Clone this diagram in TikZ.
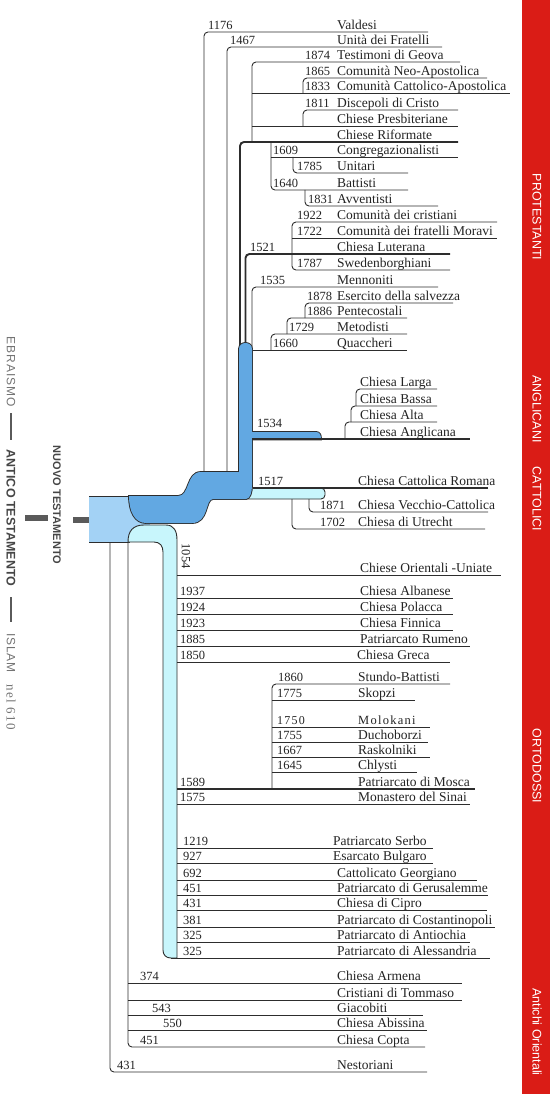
\documentclass[tikz,border=0pt]{standalone}
\usepackage{fontspec}
\setmainfont{Liberation Serif}
\setsansfont{Liberation Sans}
\newfontfamily\spacedserif[LetterSpace=10]{Liberation Serif}
\newfontfamily\spacedsans[LetterSpace=8]{Liberation Sans}
\usepackage{tikz}
\tikzset{
  ln/.style     ={draw=lncol, line width=0.9pt},
  thk/.style    ={ln/.append style={line width=1.9pt}},
  outl/.style   ={draw=lncol, line width=1.8pt},
  dt/.style     ={anchor=base west, inner sep=0pt, yshift=2.5pt, text=txtcol,
                  font=\fontsize{12.5}{13}\selectfont},
  lb/.style     ={anchor=base west, inner sep=0pt, yshift=2.5pt, text=txtcol,
                  font=\fontsize{13.5}{14}\selectfont},
  sidetxt/.style={rotate=-90, text=white, inner sep=0pt,
                  font=\sffamily\fontsize{12.5}{13}\selectfont},
  lefttxt/.style={rotate=-90, text=sidegray, inner sep=0pt,
                  font=\spacedsans\fontsize{12}{12}\selectfont},
  boldtxt/.style={rotate=-90, text=darkgray1, inner sep=0pt,
                  font=\sffamily\bfseries\fontsize{12.5}{13}\selectfont},
  sep/.style    ={draw=bargray, line width=2pt},
  gbar/.style   ={draw=bargray, line width=5.5pt},
}
\definecolor{lncol}   {RGB}{45,45,45}
\definecolor{txtcol}  {RGB}{35,35,35}
\definecolor{blueS}   {RGB}{98,168,226}
\definecolor{boxblue} {RGB}{163,210,245}
\definecolor{cyanO}   {RGB}{200,246,252}
\definecolor{redbar}  {RGB}{218,28,22}
\definecolor{sidegray}{RGB}{115,115,115}
\definecolor{darkgray1}{RGB}{70,70,70}
\definecolor{bargray} {RGB}{90,90,90}

% straight branch: name, y, x0, x1, date x, date, label x, label
\newcommand{\br}[8]{%
  \coordinate (#1a) at (#3,#2);
  \coordinate (#1b) at (#4,#2);
  \draw[ln] (#1a) -- (#1b);
  \node[dt] (#1d) at (#5,#2) {#6};
  \node[lb] (#1t) at (#7,#2) {#8};}
% branch with a bend from its parent: name, y, x0, x1, parent, date x, date, label x, label
\newcommand{\bc}[9]{%
  \coordinate (#1a) at (#3,#2);
  \coordinate (#1b) at (#4,#2);
  \draw[ln, rounded corners=4pt] (#1a |- #5) |- (#1b);
  \node[dt] (#1d) at (#6,#2) {#7};
  \node[lb] (#1t) at (#8,#2) {#9};}

\newcommand{\blueSshape}{(129,496) -- (178,496) .. controls (190,496) and (186,472) .. (201,472)
  -- (246,472) .. controls (254,472) and (254,499) .. (246,499) -- (213,499)
  .. controls (205,499) and (209,523) .. (192,523) -- (146,523)
  .. controls (135,523) and (129,512) .. (129,496) -- cycle}
\newcommand{\blueBar}{(239,485) -- (239,349) .. controls (239,341) and (252,341) .. (252,349)
  -- (252,485) -- cycle}
\newcommand{\blueAng}{(246,432) -- (316,432) .. controls (320,432) and (321,435) .. (321,439.5)
  -- (246,439.5) -- cycle}

\begin{document}
\begin{tikzpicture}[x=1pt, y=-1pt]
  \useasboundingbox (0,0) rectangle (550,1094);
  \coordinate (Stop) at (215,472);
  \coordinate (bartop) at (246,352);
  \coordinate (catband) at (300,499);
  \coordinate (boxbot) at (120,542);
  \coordinate (boxw) at (89,520);

  \bc{valdesi}{32}{204}{428}{Stop}{208}{1176}{337}{Valdesi}
  \bc{fratelli}{47}{227}{442}{Stop}{230}{1467}{337}{Unità dei Fratelli}
  \begin{scope}[thk]
    \bc{riformate}{142}{240}{458}{bartop}{337}{}{337}{Chiese Riformate}
    \bc{luterana}{254}{245.5}{450}{bartop}{250}{1521}{337}{Chiesa Luterana}
  \end{scope}
  \bc{geova}{62}{252}{460}{riformatea}{305}{1874}{337}{Testimoni di Geova}
  \br{catap}{93}{252}{510}{305}{1833}{337}{Comunità Cattolico-Apostolica}
  \bc{neoap}{78}{303}{487}{catapa}{305}{1865}{337}{Comunità Neo-Apostolica}
  \br{presb}{126}{252}{458}{337}{}{337}{Chiese Presbiteriane}
  \bc{discepoli}{110}{303}{458}{presba}{305}{1811}{337}{Discepoli di Cristo}
  \br{congr}{157}{271}{458}{273}{1609}{337}{Congregazionalisti}
  \bc{battisti}{190}{271}{408}{riformatea}{273}{1640}{337}{Battisti}
  \bc{unitari}{173}{293}{408}{congra}{297}{1785}{337}{Unitari}
  \bc{avventisti}{206}{305}{438}{battistia}{308}{1831}{337}{Avventisti}
  \bc{cristiani}{222}{292}{497}{luteranaa}{297}{1922}{337}{Comunità dei cristiani}
  \br{moravi}{238}{292}{497}{297}{1722}{337}{Comunità dei fratelli Moravi}
  \bc{swed}{270}{292}{450}{luteranaa}{297}{1787}{337}{Swedenborghiani}
  \bc{mennoniti}{287}{252}{438}{bartop}{260}{1535}{337}{Mennoniti}
  \br{quaccheri}{350}{252}{407}{273}{1660}{337}{Quaccheri}
  \bc{metodisti}{334}{271}{407}{quaccheria}{289}{1729}{337}{Metodisti}
  \bc{pentecostali}{318}{287}{407}{metodistia}{307}{1886}{337}{Pentecostali}
  \bc{esercito}{303}{305}{453}{pentecostalia}{307}{1878}{337}{Esercito della salvezza}

  \fill[boxblue] (89,496) rectangle (150,542);
  \draw[ln] (89,496) -- (130,496);
  \draw[ln] (89,542) -- (130,542);
  \draw[ln, fill=cyanO] (128,542) .. controls (128,531) and (133,525) .. (144,525) -- (166,525)
    .. controls (174,525) and (177,531) .. (177,540) -- (177,958) -- (171,958)
    .. controls (166,958) and (163,955) .. (163,950) -- (163,552)
    .. controls (163,546) and (160,542) .. (154,542) -- cycle;
  \draw[ln, fill=cyanO, rounded corners=4pt] (240,488) rectangle (325,499);
  \draw[outl] \blueSshape;
  \draw[outl] \blueBar;
  \draw[outl] \blueAng;
  \fill[blueS] \blueSshape;
  \fill[blueS] \blueBar;
  \fill[blueS] \blueAng;

  \begin{scope}[thk]
    \br{anglicana}{439}{252}{470}{360}{}{360}{Chiesa Anglicana}
    \br{romana}{488}{253}{488}{258}{1517}{358}{Chiesa Cattolica Romana}
    \br{mosca}{789}{177}{475}{180}{1589}{358}{Patriarcato di Mosca}
  \end{scope}
  \node[dt] (d1534) at (257,430) {1534};
  \bc{alta}{422}{345}{437}{anglicanaa}{360}{}{360}{Chiesa Alta}
  \bc{bassa}{406}{351}{437}{altaa}{360}{}{360}{Chiesa Bassa}
  \bc{larga}{389}{356}{437}{bassaa}{360}{}{360}{Chiesa Larga}
  \bc{vecchio}{512}{309}{488}{catband}{320}{1871}{358}{Chiesa Vecchio-Cattolica}
  \bc{utrecht}{529}{292}{485}{catband}{320}{1702}{358}{Chiesa di Utrecht}

  \node[rotate=-90, text=txtcol, inner sep=0pt, font=\fontsize{12.5}{13}\selectfont]
    (d1054) at (186,556) {1054};
  \br{uniate}{575}{177}{501}{360}{}{360}{Chiese Orientali -Uniate}
  \br{albanese}{598}{177}{453}{180}{1937}{360}{Chiesa Albanese}
  \br{polacca}{614}{177}{453}{180}{1924}{360}{Chiesa Polacca}
  \br{finnica}{630}{177}{453}{180}{1923}{360}{Chiesa Finnica}
  \br{rumeno}{646}{177}{470}{180}{1885}{360}{Patriarcato Rumeno}
  \br{greca}{662}{177}{450}{180}{1850}{357}{Chiesa Greca}
  \bc{stundo}{684}{272}{450}{moscaa}{278}{1860}{358}{Stundo-Battisti}
  \br{skopzi}{700}{272}{415}{277}{1775}{358}{Skopzi}
  \br{molokani}{727}{272}{430}{277}{\spacedserif\fontsize{12}{12}\selectfont 1750}{358}{\spacedserif\fontsize{12.5}{13}\selectfont Molokani}
  \br{duchoborzi}{742}{272}{428}{277}{1755}{358}{Duchoborzi}
  \br{raskolniki}{757}{272}{430}{277}{1667}{358}{Raskolniki}
  \br{chlysti}{772}{272}{417}{277}{1645}{358}{Chlysti}
  \br{sinai}{804}{177}{470}{180}{1575}{358}{Monastero del Sinai}

  \br{serbo}{848}{177}{433}{183}{1219}{333}{Patriarcato Serbo}
  \br{bulgaro}{863}{177}{433}{183}{927}{333}{Esarcato Bulgaro}
  \br{georgiano}{880}{177}{477}{183}{692}{337}{Cattolicato Georgiano}
  \br{gerusalemme}{895}{177}{488}{183}{451}{337}{Patriarcato di Gerusalemme}
  \br{cipro}{910}{177}{487}{183}{431}{337}{Chiesa di Cipro}
  \br{costantinopoli}{927}{177}{495}{183}{381}{337}{Patriarcato di Costantinopoli}
  \br{antiochia}{942}{177}{470}{183}{325}{337}{Patriarcato di Antiochia}
  \br{alessandria}{958}{171}{490}{183}{325}{337}{Patriarcato di Alessandria}

  \br{armena}{983}{128}{462}{140}{374}{337}{Chiesa Armena}
  \br{tommaso}{1000}{128}{462}{337}{}{337}{Cristiani di Tommaso}
  \br{giacobiti}{1015}{128}{423}{152}{543}{337}{Giacobiti}
  \br{abissina}{1030}{128}{427}{163}{550}{337}{Chiesa Abissina}
  \bc{copta}{1047}{128}{425}{boxbot}{140}{451}{337}{Chiesa Copta}
  \bc{nestoriani}{1072}{110}{427}{boxbot}{117}{431}{337}{Nestoriani}

  \node[lefttxt] (ebraismo) at (11,372) {EBRAISMO};
  \draw[sep] (11,413) -- (11,440);
  \node[boldtxt] (antico) at (11,518) {ANTICO TESTAMENTO};
  \draw[sep] (11,597) -- (11,622);
  \node[lefttxt] (islam) at (11,653) {ISLAM};
  \node[rotate=-90, text=sidegray, inner sep=0pt, font=\spacedserif\fontsize{13}{13}\selectfont]
    (nel) at (11,707) {nel 610};
  \node[boldtxt, font=\sffamily\bfseries\fontsize{11}{12}\selectfont] (nuovo) at (57,505) {NUOVO TESTAMENTO};
  \draw[gbar] ([xshift=14pt]antico.center) -- ([xshift=37pt]antico.center);
  \draw[gbar] ([xshift=-16pt]boxw) -- (boxw);

  \fill[redbar] (522,0) rectangle (550,1094);
  \node[sidetxt] (prot) at (537,217) {PROTESTANTI};
  \node[sidetxt] (angl) at (537,409) {ANGLICANI};
  \node[sidetxt] (catt) at (537,499) {CATTOLICI};
  \node[sidetxt] (orto) at (537,766) {ORTODOSSI};
  \node[sidetxt] (antichi) at (537,1032) {Antichi Orientali};
\end{tikzpicture}
\end{document}
